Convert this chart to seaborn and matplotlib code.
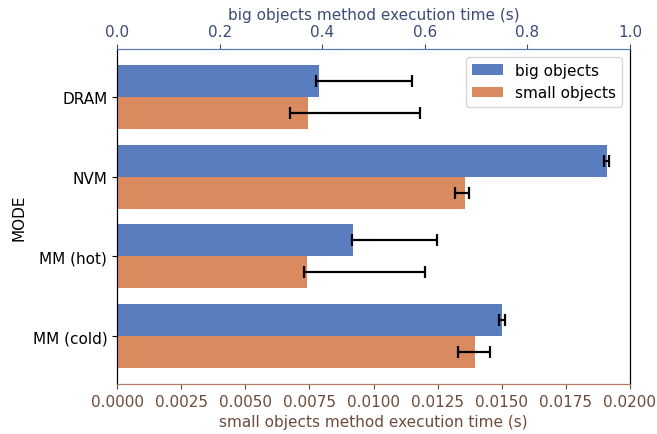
import matplotlib
matplotlib.use("Agg")
import matplotlib.pyplot as plt
from matplotlib.patches import Patch
import seaborn as sns
import numpy as np
import pandas as pd

# Data
modes = ["DRAM", "NVM", "MM (hot)", "MM (cold)"]
kinds = ["big objects", "small objects"]

big_mean = [0.394, 0.955, 0.461, 0.750]
big_low = [0.387, 0.950, 0.459, 0.745]
big_high = [0.575, 0.960, 0.624, 0.756]

small_mean = [0.00745, 0.01356, 0.00740, 0.01395]
small_low = [0.00674, 0.01319, 0.00729, 0.01330]
small_high = [0.01181, 0.01373, 0.01200, 0.01453]

big_df = pd.DataFrame({"MODE": modes, "time": big_mean, "kind": kinds[0]})
small_df = pd.DataFrame({"MODE": modes, "time": small_mean, "kind": kinds[1]})

palette = dict(zip(kinds, sns.color_palette("muted", 2)))
top_color = "#3c4b78"
bottom_color = "#6e4a3b"
fs = 11

plt.rcParams["font.family"] = "DejaVu Sans"
fig = plt.figure(figsize=(6.57, 4.35), dpi=100)
ax = fig.add_axes([117 / 657, 50 / 435, 513 / 657, 335 / 435])
ax2 = ax.twiny()
# bottom axes drawn on top so its error bars are not hidden
ax.set_zorder(ax2.get_zorder() + 1)
ax.patch.set_visible(False)

# small objects on bottom axis, big objects on top axis
sns.barplot(data=small_df, x="time", y="MODE", hue="kind", hue_order=kinds,
            order=modes, palette=palette, errorbar=None, legend=False,
            dodge=True, ax=ax)
sns.barplot(data=big_df, x="time", y="MODE", hue="kind", hue_order=kinds,
            order=modes, palette=palette, errorbar=None, legend=False,
            dodge=True, ax=ax2)

# asymmetric error bars at bar centres
def add_errors(axis, mean, low, high):
    centres = sorted([p.get_y() + p.get_height() / 2 for p in axis.patches
                      if p.get_width() > 0])
    mean = np.array(mean)
    err = [mean - np.array(low), np.array(high) - mean]
    axis.errorbar(mean, centres, xerr=err, fmt="none", ecolor="black",
                  elinewidth=1.6, capsize=4.5, capthick=1.6, zorder=5)

add_errors(ax, small_mean, small_low, small_high)
add_errors(ax2, big_mean, big_low, big_high)

ax.set_xlim(0, 0.02)
ax2.set_xlim(0, 1.0)
ax.set_ylim(3.6, -0.6)
ticks = np.arange(0, 0.02001, 0.0025)
ax.set_xticks(ticks)
ax.set_xticklabels([f"{t:.4f}" for t in ticks])

ax.set_xlabel("small objects method execution time (s)", color=bottom_color, fontsize=fs)
ax2.set_xlabel("big objects method execution time (s)", color=top_color, fontsize=fs)
ax.set_ylabel("MODE", fontsize=fs)
ax.tick_params(axis="x", colors=bottom_color, labelsize=fs)
ax2.tick_params(axis="x", colors=top_color, labelsize=fs)
ax.tick_params(axis="y", labelsize=fs)
ax.spines["bottom"].set_color("#b07f63")
ax.spines["top"].set_color("#5a78b8")
ax2.spines["top"].set_color("#5a78b8")
ax2.spines["bottom"].set_color("#b07f63")

handles = [Patch(facecolor=ax2.patches[0].get_facecolor(), label=kinds[0]),
           Patch(facecolor=ax.patches[-1].get_facecolor(), label=kinds[1])]
ax.legend(handles=handles, loc="upper right", fontsize=fs)

fig.savefig("out.png", dpi=100)
